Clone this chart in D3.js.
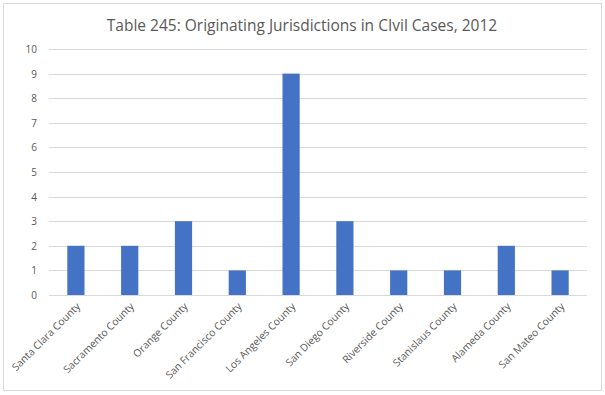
<!DOCTYPE html>
<html>
<head>
<meta charset="utf-8">
<script src="https://cdn.jsdelivr.net/npm/d3@7"></script>
<style>
    body { margin: 0; background: #fff; }
    text { font-family: "Open Sans", "Liberation Sans", sans-serif; fill: #595959; }
</style>
</head>
<body>
<div id="chart"></div>
<script>
const title = 'Table 245: Originating Jurisdictions in CIvil Cases, 2012';
const counties = [
    'Santa Clara County', 'Sacramento County', 'Orange County', 'San Francisco County',
    'Los Angeles County', 'San Diego County', 'Riverside County', 'Stanislaus County',
    'Alameda County', 'San Mateo County'
];
const cases = [2, 2, 3, 1, 9, 3, 1, 1, 2, 1];
const yTicks = [0, 1, 2, 3, 4, 5, 6, 7, 8, 9, 10];

const width = 605, height = 395;
const margin = {top: 49, right: 18, bottom: 100, left: 49};

const svg = d3.select('#chart').append('svg')
    .attr('width', width)
    .attr('height', height);

// chart border
svg.append('rect')
    .attr('x', 3.5).attr('y', 3.5)
    .attr('width', 598).attr('height', 387)
    .attr('fill', '#fff')
    .attr('stroke', '#d9d9d9');

svg.append('text')
    .attr('x', 302).attr('y', 31)
    .attr('text-anchor', 'middle')
    .style('font-size', '15.5px')
    .text(title);

const x = d3.scaleBand()
    .domain(counties)
    .range([margin.left, width - margin.right])
    .paddingInner(0.68)
    .paddingOuter(0.34);

const y = d3.scaleLinear()
    .domain([0, 10])
    .range([height - margin.bottom, margin.top]);

// gridlines
svg.append('g')
    .selectAll('line')
    .data(yTicks)
    .enter().append('line')
    .attr('x1', margin.left)
    .attr('x2', width - margin.right)
    .attr('y1', d => Math.round(y(d)) + 0.5)
    .attr('y2', d => Math.round(y(d)) + 0.5)
    .attr('stroke', '#d9d9d9');

svg.append('g')
    .selectAll('text')
    .data(yTicks)
    .enter().append('text')
    .attr('x', 37)
    .attr('y', d => y(d) + 4)
    .attr('text-anchor', 'end')
    .style('font-size', '10px')
    .text(d => d);

svg.append('g')
    .selectAll('rect')
    .data(cases)
    .enter().append('rect')
    .attr('x', (d, i) => x(counties[i]))
    .attr('width', x.bandwidth())
    .attr('y', d => y(d))
    .attr('height', d => y(0) - y(d))
    .attr('fill', '#4472c4');

// rotated category labels
svg.append('g')
    .selectAll('text')
    .data(counties)
    .enter().append('text')
    .attr('transform', d => `translate(${x(d) + x.bandwidth() / 2 + 5},${y(0) + 12}) rotate(-45)`)
    .attr('text-anchor', 'end')
    .style('font-size', '10.3px')
    .text(d => d);
</script>
</body>
</html>
